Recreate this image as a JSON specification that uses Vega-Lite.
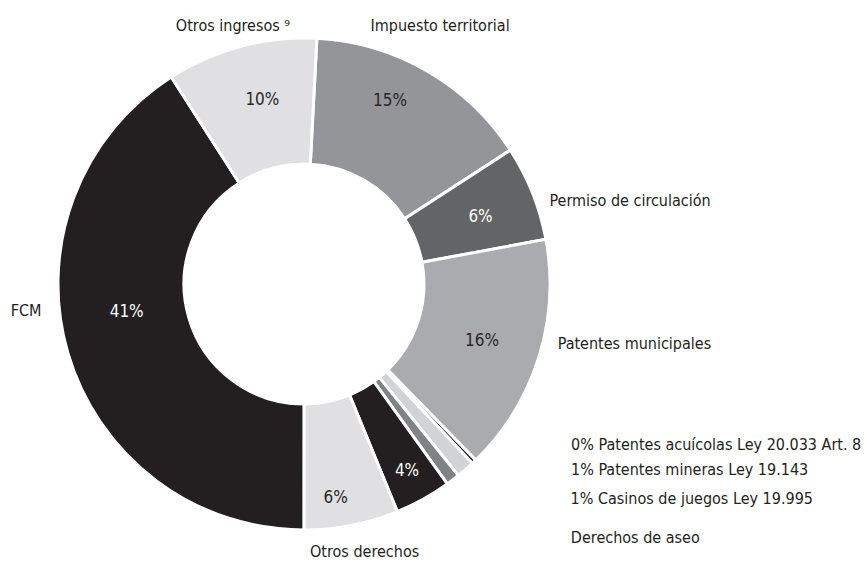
{
  "$schema": "https://vega.github.io/schema/vega-lite/v6.json",
  "width": 608,
  "height": 568,
  "autosize": {"type": "none"},
  "padding": {"left": 0, "top": 0, "right": 259, "bottom": 0},
  "background": "white",
  "view": {"stroke": null},
  "data": {
    "values": [
      {"name": "Impuesto territorial", "label": "Impuesto territorial", "share": 0.150},
      {"name": "Permiso de circulación", "label": "Permiso de circulación", "share": 0.0625},
      {"name": "Patentes municipales", "label": "Patentes municipales", "share": 0.156},
      {"name": "Patentes acuícolas", "label": "0% Patentes acuícolas Ley 20.033 Art. 8", "share": 0.003},
      {"name": "Patentes mineras", "label": "1% Patentes mineras Ley 19.143", "share": 0.012},
      {"name": "Casinos de juegos", "label": "1% Casinos de juegos Ley 19.995", "share": 0.009},
      {"name": "Derechos de aseo", "label": "Derechos de aseo", "share": 0.037},
      {"name": "Otros derechos", "label": "Otros derechos", "share": 0.062},
      {"name": "FCM", "label": "FCM", "share": 0.409},
      {"name": "Otros ingresos", "label": "Otros ingresos ⁹", "share": 0.099}
    ]
  },
  "transform": [{"window": [{"op": "row_number", "as": "rn"}]}],
  "encoding": {
    "theta": {"field": "share", "type": "quantitative", "stack": true, "scale": {"range": [0.0524, 6.3356]}},
    "order": {"field": "rn", "type": "quantitative"}
  },
  "layer": [
    {
      "mark": {"type": "arc", "outerRadius": 246, "innerRadius": 120, "stroke": "white", "strokeWidth": 3},
      "encoding": {
        "color": {
          "field": "name",
          "type": "nominal",
          "legend": null,
          "scale": {
            "domain": ["Impuesto territorial", "Permiso de circulación", "Patentes municipales", "Patentes acuícolas", "Patentes mineras", "Casinos de juegos", "Derechos de aseo", "Otros derechos", "FCM", "Otros ingresos"],
            "range": ["#939598", "#636466", "#a9abae", "#231f20", "#d1d3d4", "#808285", "#231f20", "#e0e0e2", "#231f20", "#e0e0e2"]
          }
        }
      }
    },
    {
      "mark": {
        "type": "text",
        "radius": 190,
        "font": "Liberation Sans Narrow, DejaVu Sans Condensed, Roboto, sans-serif",
        "fontSize": 17,
        "baseline": "middle",
        "align": "center",
        "dx": {"expr": "[-9, 0, -3, 0, 0, 0, 11, -5, 5, 7][datum.rn - 1]"},
        "dy": {"expr": "[-18, 3, -1, 0, 0, 0, 21, 28, -25, 0][datum.rn - 1]"}
      },
      "encoding": {
        "detail": {"field": "name", "type": "nominal"},
        "text": {"field": "share", "type": "quantitative", "format": ".0%", "condition": {"test": "datum.share < 0.03", "value": ""}},
        "color": {"condition": {"test": "datum.name === 'FCM' || datum.name === 'Derechos de aseo' || datum.name === 'Permiso de circulación'", "value": "#ffffff"}, "value": "#2a2627"}
      }
    },
    {
      "mark": {
        "type": "text",
        "radius": 262,
        "font": "Liberation Sans Narrow, DejaVu Sans Condensed, Roboto, sans-serif",
        "fontSize": 16,
        "baseline": "middle",
        "color": "#231f20",
        "align": {"expr": "['center', 'left', 'left', 'left', 'left', 'left', 'left', 'center', 'right', 'center'][datum.rn - 1]"},
        "dx": {"expr": "[5, 2, 4, 86, 95, 108, 140, 10, -11, -4][datum.rn - 1]"},
        "dy": {"expr": "[-31, 14, -19, -28, -12, 6, 25, 11, -47, -5][datum.rn - 1]"}
      },
      "encoding": {
        "detail": {"field": "name", "type": "nominal"},
        "text": {"field": "label", "type": "nominal"}
      }
    }
  ]
}
